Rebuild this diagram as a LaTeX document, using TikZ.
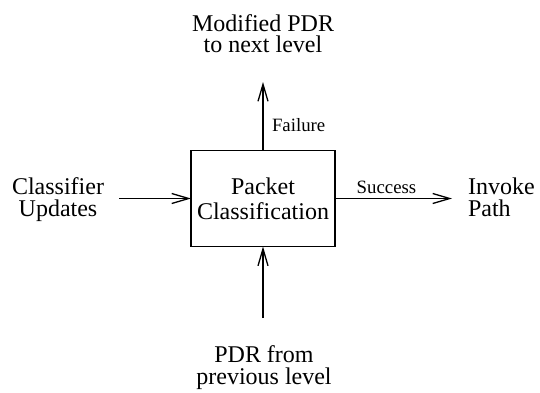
\documentclass[tikz,border=0pt]{standalone}
\usepackage{fontspec}
\setmainfont{Liberation Serif}
\usetikzlibrary{arrows.meta}
\newlength{\du}
\setlength{\du}{0.5pt}

\begin{document}
\begin{tikzpicture}[even odd rule,
  biglbl/.style={inner sep=0pt,outer sep=0pt,align=center,font=\fontsize{12}{10.8}\selectfont},
  smalllbl/.style={inner sep=0pt,outer sep=0pt,font=\fontsize{9.4}{11}\selectfont},
  flow/.style={line width=0.65pt,-{Straight Barb[length=8.5pt,width=5pt]}}]
\pgftransformxscale{1.000000}
\pgftransformyscale{-1.000000}
\definecolor{dialinecolor}{rgb}{0.000000, 0.000000, 0.000000}
\useasboundingbox (0\du,0\du) rectangle (540\du,392\du);
% the block
\node[draw=dialinecolor,line width=0.65pt,minimum width=144\du,minimum height=96\du,
  inner sep=0pt,outer sep=0pt,align=center,font=\fontsize{12}{12.5}\selectfont]
  (pc) at (263\du,198.5\du) {Packet\\Classification};
% texts round it
\node[biglbl] (modpdr) at (263\du,33.5\du) {Modified PDR\\to next level};
\node[biglbl] (clsupd) at (58\du,199.5\du) {Classifier\\Updates};
\node[biglbl,align=left,anchor=west] (invpath) at (468\du,197.5\du) {Invoke\\Path};
\node[biglbl] (prevpdr) at (264\du,367.5\du) {PDR from\\previous level};
\node[smalllbl,anchor=west] (faillbl) at (272\du,125\du) {Failure};
\node[smalllbl] (succlbl) at (386.5\du,187\du) {Success};
% free ends
\coordinate (clsin) at (119\du,198.5\du);
\coordinate (pathout) at (452\du,198.5\du);
\coordinate (failtip) at (263\du,82\du);
\coordinate (pdrin) at (263\du,318\du);
\draw[flow,color=dialinecolor] (clsin) -- (pc.west);
\draw[flow,color=dialinecolor] (pc.east) -- (pathout);
\draw[flow,color=dialinecolor] (pc.north) -- (failtip);
\draw[flow,color=dialinecolor] (pdrin) -- (pc.south);
\end{tikzpicture}
\end{document}
